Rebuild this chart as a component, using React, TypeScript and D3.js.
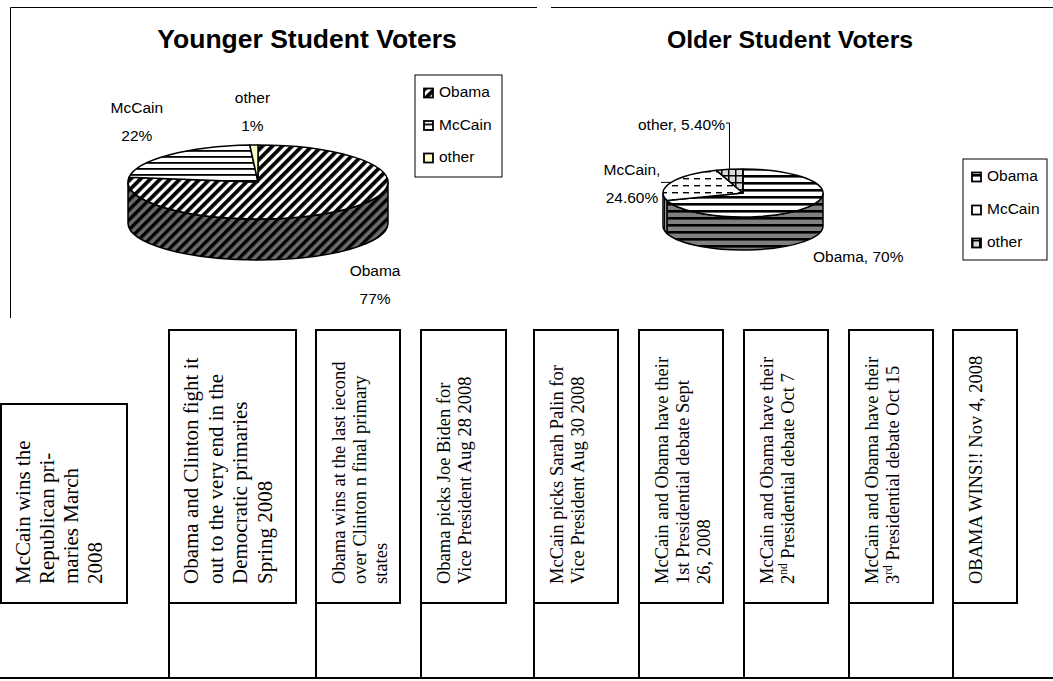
import React from 'react';
import * as d3 from 'd3';

// candidates and shares
const candidates = ['Obama', 'McCain', 'other'];
const youngerShares = [77, 22, 1];
const youngerValueLabels = ['77%', '22%', '1%'];
const olderShares = [70, 24.6, 5.4];
const olderValueLabels = ['70%', '24.60%', '5.40%'];

// timeline boxes, one array of lines each ("^" marks a superscript)
const events = [
  ['McCain wins the', 'Republican pri-', 'maries  March', '2008'],
  ['Obama and Clinton  fight it', 'out to the very end in the', 'Democratic primaries', 'Spring 2008'],
  ['Obama wins at the last iecond', 'over Clinton n final primary', 'states'],
  ['Obama picks Joe Biden for', 'Vice President Aug 28 2008'],
  ['McCain picks Sarah Palin for', 'Vice President  Aug 30 2008'],
  ['McCain and Obama have their', '1st Presidential debate Sept', '26, 2008'],
  ['McCain and Obama have their', '2^nd Presidential debate Oct 7'],
  ['McCain and Obama have their', '3^rd Presidential debate Oct 15'],
  ['OBAMA WINS!! Nov 4, 2008'],
];

// layout only
const boxLayout = [
  { x: 1, w: 126, top: 404, font: 21, lh: 24 },
  { x: 169, w: 127, top: 330, font: 21, lh: 24.5 },
  { x: 316, w: 84, top: 330, font: 18.5, lh: 21 },
  { x: 421, w: 85, top: 330, font: 18.5, lh: 21 },
  { x: 534, w: 84, top: 330, font: 18.5, lh: 21 },
  { x: 639, w: 84, top: 330, font: 18.5, lh: 21 },
  { x: 744, w: 84, top: 330, font: 18.5, lh: 21 },
  { x: 849, w: 84, top: 330, font: 18.5, lh: 21 },
  { x: 953, w: 64, top: 330, font: 18.5, lh: 21 },
];
const boxBottom = 603;
const baseY = 678;

const SANS = '"Liberation Sans", Arial, sans-serif';
const SERIF = '"Liberation Serif", "Times New Roman", serif';

const pie = d3.pie<number>().sort(null).value(d => d);

type Geo = { cx: number; cy: number; rx: number; ry: number; depth: number };

const pt = (g: Geo, a: number, dy = 0): [number, number] => [
  g.cx + g.rx * Math.sin(a),
  g.cy - g.ry * Math.cos(a) + dy,
];

function topPath(g: Geo, a0: number, a1: number) {
  const p0 = pt(g, a0);
  const p1 = pt(g, a1);
  const large = a1 - a0 > Math.PI ? 1 : 0;
  return `M${g.cx},${g.cy}L${p0[0]},${p0[1]}A${g.rx},${g.ry} 0 ${large} 1 ${p1[0]},${p1[1]}Z`;
}

function sidePath(g: Geo, a0: number, a1: number) {
  const s = Math.max(a0, Math.PI / 2);
  const e = Math.min(a1, (3 * Math.PI) / 2);
  if (s >= e) return null;
  const p0 = pt(g, s);
  const p1 = pt(g, e);
  const q1 = pt(g, e, g.depth);
  const q0 = pt(g, s, g.depth);
  return `M${p0[0]},${p0[1]}A${g.rx},${g.ry} 0 0 1 ${p1[0]},${p1[1]}L${q1[0]},${q1[1]}A${g.rx},${g.ry} 0 0 0 ${q0[0]},${q0[1]}Z`;
}

function Pie3D({ g, values, tops, sides }: { g: Geo; values: number[]; tops: string[]; sides: string[] }) {
  const arcs = pie(values);
  return (
    <g>
      {arcs.map((a, i) => {
        const d = sidePath(g, a.startAngle, a.endAngle);
        return d ? <path key={'s' + i} d={d} fill={sides[i]} stroke="#000" strokeWidth={1.5} /> : null;
      })}
      {arcs.map((a, i) => (
        <path key={'t' + i} d={topPath(g, a.startAngle, a.endAngle)} fill={tops[i]} stroke="#000" strokeWidth={1.5} strokeLinejoin="round" />
      ))}
    </g>
  );
}

function Legend({ x, y, w, h, step, fills }: { x: number; y: number; w: number; h: number; step: number; fills: string[] }) {
  return (
    <g>
      <rect x={x} y={y} width={w} height={h} fill="#fff" stroke="#000" strokeWidth={1} />
      {candidates.map((c, i) => (
        <g key={c} transform={`translate(${x + 9},${y + 22 + i * step})`}>
          <rect x={0} y={-8.5} width={9} height={9} fill={fills[i]} stroke="#000" strokeWidth={1.8} />
          <text x={15} y={0} fontFamily={SANS} fontSize={15.5}>{c}</text>
        </g>
      ))}
    </g>
  );
}

function EventLine({ text, x, y, size }: { text: string; x: number; y: number; size: number }) {
  const m = text.match(/^(\S*?)\^(\w+)(.*)$/);
  return (
    <text transform={`translate(${x},${y}) rotate(-90)`} fontFamily={SERIF} fontSize={size}>
      {m ? (
        <>
          {m[1]}
          <tspan dy={-7} fontSize={size * 0.62}>{m[2]}</tspan>
          <tspan dy={7}>{m[3]}</tspan>
        </>
      ) : text}
    </text>
  );
}

export default function App() {
  const yg: Geo = { cx: 258, cy: 182, rx: 130, ry: 37, depth: 41 };
  const og: Geo = { cx: 743, cy: 193, rx: 80, ry: 24, depth: 33 };

  const yArcs = pie(youngerShares);
  const oArcs = pie(olderShares);
  const mid = (a: d3.PieArcDatum<number>) => (a.startAngle + a.endAngle) / 2;

  // younger labels sit on a wider ellipse round the pie
  const yNudge = [0, 0, 12];
  const yLabels = yArcs.map((a, i) => {
    const m = mid(a);
    const x = yg.cx + (yg.rx + 47) * Math.sin(m);
    const c = Math.cos(m);
    const y = yg.cy - (yg.ry + 45) * c + (c < 0 ? yg.depth : 0) + yNudge[i];
    return { x, y };
  });

  // older labels were dragged out, with leader lines to the slice
  const oAnchor = oArcs.map(a => pt(og, mid(a)));

  return (
    <svg width={1053} height={681} style={{ position: 'absolute', left: 0, top: 0, background: '#fff' }}>
      <defs>
        <pattern id="yObTop" width={7} height={7} patternUnits="userSpaceOnUse" patternTransform="rotate(45)">
          <rect width={7} height={7} fill="#fff" />
          <rect width={3.8} height={7} fill="#000" />
        </pattern>
        <pattern id="yObSide" width={7} height={7} patternUnits="userSpaceOnUse" patternTransform="rotate(45)">
          <rect width={7} height={7} fill="#6b6b6b" />
          <rect width={3.4} height={7} fill="#000" />
        </pattern>
        <pattern id="yMcTop" width={6} height={6} patternUnits="userSpaceOnUse">
          <rect width={6} height={6} fill="#fff" />
          <rect width={6} height={1.8} fill="#000" />
        </pattern>
        <pattern id="oObTop" width={7} height={7} patternUnits="userSpaceOnUse">
          <rect width={7} height={7} fill="#fff" />
          <rect width={7} height={2.6} fill="#000" />
        </pattern>
        <pattern id="oObSide" width={7} height={7} patternUnits="userSpaceOnUse">
          <rect width={7} height={7} fill="#808080" />
          <rect width={7} height={2.6} fill="#000" />
        </pattern>
        <pattern id="oMcTop" width={11} height={7} patternUnits="userSpaceOnUse">
          <rect width={11} height={7} fill="#fff" />
          <rect x={1} y={3} width={6} height={1.4} fill="#000" />
        </pattern>
        <pattern id="oMcSide" width={4} height={7} patternUnits="userSpaceOnUse">
          <rect width={4} height={7} fill="#bdbdbd" />
          <rect width={1.2} height={7} fill="#000" />
        </pattern>
        <pattern id="oOtTop" width={7} height={7} patternUnits="userSpaceOnUse">
          <rect width={7} height={7} fill="#d9d9d9" />
          <rect width={7} height={1.5} fill="#000" />
          <rect width={1.5} height={7} fill="#000" />
        </pattern>
      </defs>

      {/* chart frames */}
      <path d="M10.5,318V7.5H537" fill="none" stroke="#000" strokeWidth={1} />
      <path d="M551,7.5H1053" fill="none" stroke="#000" strokeWidth={1} />

      {/* younger voters */}
      <text x={307} y={48} textAnchor="middle" fontFamily={SANS} fontWeight="bold" fontSize={26.5}>Younger Student Voters</text>
      <Pie3D g={yg} values={youngerShares} tops={['url(#yObTop)', 'url(#yMcTop)', '#ffffcc']} sides={['url(#yObSide)', '#ddd', '#e6e6b0']} />
      {yLabels.map((p, i) => (
        <text key={i} textAnchor="middle" fontFamily={SANS} fontSize={15.5}>
          <tspan x={p.x} y={p.y - 9}>{candidates[i]}</tspan>
          <tspan x={p.x} y={p.y + 19}>{youngerValueLabels[i]}</tspan>
        </text>
      ))}
      <Legend x={415} y={75} w={87} h={102} step={32.5} fills={['url(#yObTop)', 'url(#yMcTop)', '#ffffcc']} />

      {/* older voters */}
      <text x={790} y={48} textAnchor="middle" fontFamily={SANS} fontWeight="bold" fontSize={24.8}>Older Student Voters</text>
      <Pie3D g={og} values={olderShares} tops={['url(#oObTop)', 'url(#oMcTop)', 'url(#oOtTop)']} sides={['url(#oObSide)', 'url(#oMcSide)', '#999']} />
      <text x={og.cx + 70} y={og.cy + 69} fontFamily={SANS} fontSize={15.5}>{`${candidates[0]}, ${olderValueLabels[0]}`}</text>
      <text textAnchor="middle" fontFamily={SANS} fontSize={15.5}>
        <tspan x={og.cx - 111} y={og.cy - 18}>{`${candidates[1]},`}</tspan>
        <tspan x={og.cx - 111} y={og.cy + 10}>{olderValueLabels[1]}</tspan>
      </text>
      <path d={`M${og.cx - 82},${oAnchor[1][1]}H${oAnchor[1][0]}`} fill="none" stroke="#000" strokeWidth={1} />
      <text x={og.cx - 18} y={og.cy - 63} textAnchor="end" fontFamily={SANS} fontSize={15.5}>{`${candidates[2]}, ${olderValueLabels[2]}`}</text>
      <path d={`M${og.cx - 17},${og.cy - 70}H${oAnchor[2][0]}V${oAnchor[2][1]}`} fill="none" stroke="#000" strokeWidth={1} />
      <Legend x={963} y={159} w={84} h={101} step={33} fills={['url(#oObTop)', '#fff', 'url(#oOtTop)']} />

      {/* timeline */}
      <line x1={0} x2={1053} y1={baseY} y2={baseY} stroke="#000" strokeWidth={2} />
      {events.map((lines, i) => {
        const b = boxLayout[i];
        return (
          <g key={i}>
            {i > 0 && <line x1={b.x} x2={b.x} y1={boxBottom} y2={baseY} stroke="#000" strokeWidth={2} />}
            <rect x={b.x} y={b.top} width={b.w} height={boxBottom - b.top} fill="#fff" stroke="#000" strokeWidth={2} />
            {lines.map((t, j) => (
              <EventLine key={j} text={t} x={b.x + 29 + j * b.lh} y={boxBottom - 19} size={b.font} />
            ))}
          </g>
        );
      })}
    </svg>
  );
}
